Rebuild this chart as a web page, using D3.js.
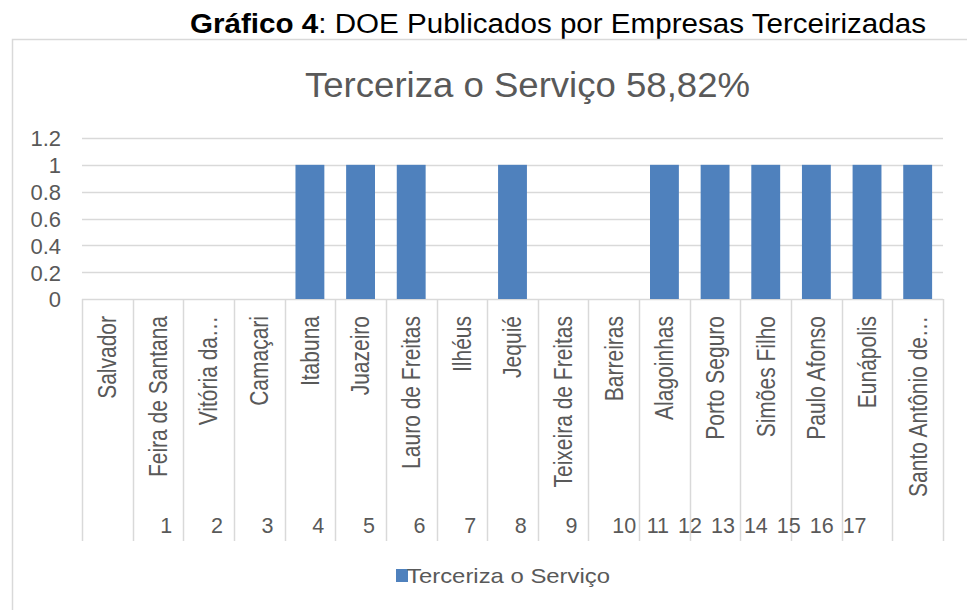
<!DOCTYPE html>
<html>
<head>
<meta charset="utf-8">
<script src="https://cdn.jsdelivr.net/npm/d3@7"></script>
<style>
  body { margin: 0; background: #fff; }
  text { font-family: "Liberation Sans", Arial, sans-serif; }
</style>
</head>
<body>
<div id="chart-area"></div>
<script>
// data
var cities = ["Salvador", "Feira de Santana", "Vitória da…", "Camaçari", "Itabuna",
  "Juazeiro", "Lauro de Freitas", "Ilhéus", "Jequié", "Teixeira de Freitas",
  "Barreiras", "Alagoinhas", "Porto Seguro", "Simões Filho", "Paulo Afonso",
  "Eunápolis", "Santo Antônio de…"];
var terceiriza = [0, 0, 0, 0, 1, 1, 1, 0, 1, 0, 0, 1, 1, 1, 1, 1, 1];
var outerLabels = ["1", "2", "3", "4", "5", "6", "7", "8", "9", "10",
  "11", "12", "13", "14", "15", "16", "17"];
var yTicks = [0, 0.2, 0.4, 0.6, 0.8, 1, 1.2];
var seriesName = "Terceriza o Serviço";
var chartTitle = "Terceriza o Serviço 58,82%";

var W = 967, H = 610;
var plot = { left: 82, right: 943, top: 138, bottom: 299 };
var gray = "#595959", lineGray = "#d9d9d9", blue = "#4f81bd";

var svg = d3.select("#chart-area")
  .append("svg")
    .attr("width", W)
    .attr("height", H);

// heading above the chart
var heading = svg.append("text")
  .attr("x", 190)
  .attr("y", 33)
  .attr("font-size", "27px")
  .attr("fill", "#000")
  .attr("textLength", 736)
  .attr("lengthAdjust", "spacingAndGlyphs");
heading.append("tspan").attr("font-weight", "bold").text("Gráfico 4");
heading.append("tspan").text(": DOE Publicados por Empresas Terceirizadas");

// chart frame
svg.append("rect")
  .attr("x", 12.5)
  .attr("y", 39.5)
  .attr("width", W)
  .attr("height", H)
  .attr("fill", "none")
  .attr("stroke", lineGray)
  .attr("stroke-width", 1.5);

svg.append("text")
  .attr("x", 305)
  .attr("y", 97)
  .attr("font-size", "35px")
  .attr("fill", gray)
  .attr("textLength", 445)
  .attr("lengthAdjust", "spacingAndGlyphs")
  .text(chartTitle);

// scales
var cell = d3.scaleBand()
  .domain(cities)
  .range([plot.left, plot.right]);
var x = d3.scaleBand()
  .domain(cities)
  .range([plot.left, plot.right])
  .paddingInner(0.43)
  .paddingOuter(0.215);
var y = d3.scaleLinear()
  .domain([0, 1.2])
  .range([plot.bottom, plot.top]);

// gridlines
svg.append("g")
  .selectAll("line")
  .data(yTicks)
  .enter().append("line")
    .attr("x1", plot.left)
    .attr("x2", plot.right)
    .attr("y1", function(d) { return Math.round(y(d)) + 0.5; })
    .attr("y2", function(d) { return Math.round(y(d)) + 0.5; })
    .attr("stroke", lineGray)
    .attr("stroke-width", 1.5);

// y axis labels
var yAxisCall = d3.axisLeft(y)
  .tickValues(yTicks)
  .tickSize(0)
  .tickPadding(0)
  .tickFormat(function(d) { return String(d); });
var yAxis = svg.append("g")
  .attr("transform", "translate(61,0)")
  .call(yAxisCall);
yAxis.select(".domain").remove();
yAxis.selectAll("text")
  .attr("font-size", "22px")
  .attr("font-family", "Liberation Sans, Arial, sans-serif")
  .attr("fill", gray)
  .attr("dy", "0.36em");

// bars
svg.append("g")
  .selectAll("rect")
  .data(terceiriza)
  .enter().append("rect")
    .attr("x", function(d, i) { return x(cities[i]); })
    .attr("width", x.bandwidth())
    .attr("y", function(d) { return y(d); })
    .attr("height", function(d) { return y(0) - y(d); })
    .attr("fill", blue);

// category separators (two-level axis)
var bounds = cities.map(function(c) { return cell(c); }).concat([plot.right]);
svg.append("g")
  .selectAll("line")
  .data(bounds)
  .enter().append("line")
    .attr("x1", function(d) { return Math.round(d) + 0.5; })
    .attr("x2", function(d) { return Math.round(d) + 0.5; })
    .attr("y1", plot.bottom)
    .attr("y2", 541)
    .attr("stroke", lineGray)
    .attr("stroke-width", 1.5);

// rotated city labels (glyphs a bit wider on screen, like the original)
svg.append("g")
  .selectAll("text")
  .data(cities)
  .enter().append("text")
    .attr("transform", function(d) {
      return "translate(" + (cell(d) + cell.bandwidth() / 2) + ",316) rotate(-90) scale(1,1.2)";
    })
    .attr("text-anchor", "end")
    .attr("dy", "0.35em")
    .attr("font-size", "21px")
    .attr("fill", gray)
    .text(function(d) { return d; });

// outer level numbers: 1-9 sit at the right of the next cell, 10-17 are squeezed
var step = cell.step();
var outerX = d3.scaleLinear()
  .domain([1, 9, 10, 17])
  .range([cell(cities[1]) + step - 11, cell(cities[9]) + step - 11,
          cell(cities[10]) + step - 3, cell(cities[10]) + step - 3 + 7 * step * 0.65]);
svg.append("g")
  .selectAll("text")
  .data(outerLabels)
  .enter().append("text")
    .attr("x", function(d) { return outerX(+d); })
    .attr("y", 533)
    .attr("text-anchor", "end")
    .attr("font-size", "21.5px")
    .attr("fill", gray)
    .text(function(d) { return d; });

// legend
var legend = svg.append("g");
legend.append("rect")
  .attr("x", 396)
  .attr("y", 569)
  .attr("width", 12)
  .attr("height", 13)
  .attr("fill", blue);
legend.append("text")
  .attr("x", 407)
  .attr("y", 583)
  .attr("font-size", "21px")
  .attr("fill", gray)
  .attr("textLength", 203)
  .attr("lengthAdjust", "spacingAndGlyphs")
  .text(seriesName);
</script>
</body>
</html>
